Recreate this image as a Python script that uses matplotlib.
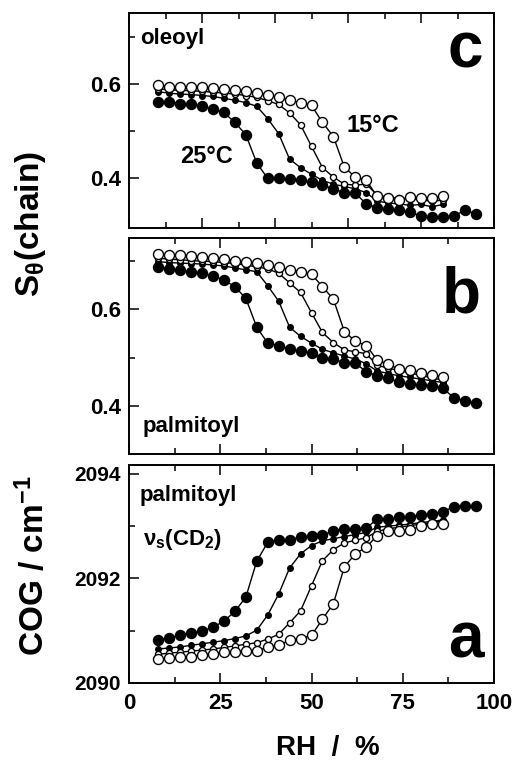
import matplotlib
matplotlib.use("Agg")
import matplotlib.pyplot as plt
from matplotlib.ticker import MultipleLocator, FixedLocator

plt.rcParams['font.family'] = ['Liberation Sans', 'DejaVu Sans']
plt.rcParams['font.weight'] = 'bold'
plt.rcParams['mathtext.fontset'] = 'custom'
plt.rcParams['mathtext.rm'] = 'Liberation Sans'
plt.rcParams['mathtext.bf'] = 'Liberation Sans:bold'
plt.rcParams['mathtext.it'] = 'Liberation Sans'

# relative humidity grids (%)
rh_long = [8, 11, 14, 17, 20, 23, 26, 29, 32, 35, 38, 41, 44, 47, 50, 53, 56, 59,
           62, 65, 68, 71, 74, 77, 80, 83, 86, 89, 92, 95]
rh_short = [8, 11, 14, 17, 20, 23, 26, 29, 32, 35, 38, 41, 44, 47, 50, 53, 56, 59,
            62, 65, 68, 71, 74, 77, 80, 83, 86]

# panel c: oleoyl order parameter
c_25 = [0.562, 0.563, 0.559, 0.557, 0.553, 0.547, 0.540, 0.519, 0.493, 0.433, 0.400,
        0.400, 0.398, 0.396, 0.392, 0.386, 0.378, 0.370, 0.369, 0.346, 0.338, 0.335,
        0.333, 0.329, 0.320, 0.318, 0.319, 0.320, 0.333, 0.325]
c_t2 = [0.584, 0.581, 0.579, 0.578, 0.576, 0.574, 0.570, 0.566, 0.561, 0.553, 0.527,
        0.495, 0.441, 0.423, 0.409, 0.396, 0.388, 0.383, 0.378, 0.370, 0.352, 0.348,
        0.346, 0.343, 0.345, 0.340, 0.345]
c_t3 = [0.590, 0.588, 0.587, 0.586, 0.585, 0.583, 0.581, 0.579, 0.576, 0.572, 0.565,
        0.557, 0.539, 0.514, 0.468, 0.423, 0.403, 0.388, 0.386, 0.388, 0.365, 0.360,
        0.358, 0.357, 0.355, 0.352, 0.354]
c_15 = [0.598, 0.595, 0.594, 0.593, 0.593, 0.591, 0.589, 0.587, 0.585, 0.581, 0.578,
        0.572, 0.566, 0.561, 0.555, 0.519, 0.489, 0.424, 0.403, 0.396, 0.362, 0.359,
        0.355, 0.360, 0.359, 0.359, 0.362]

# panel b: palmitoyl order parameter
b_25 = [0.687, 0.683, 0.681, 0.678, 0.675, 0.670, 0.661, 0.647, 0.623, 0.563, 0.530,
        0.525, 0.517, 0.513, 0.510, 0.500, 0.497, 0.489, 0.488, 0.471, 0.462, 0.457,
        0.449, 0.445, 0.443, 0.441, 0.436, 0.417, 0.410, 0.405]
b_t2 = [0.699, 0.697, 0.696, 0.695, 0.694, 0.692, 0.690, 0.686, 0.682, 0.678, 0.649,
        0.617, 0.563, 0.544, 0.530, 0.517, 0.510, 0.503, 0.497, 0.487, 0.472, 0.467,
        0.462, 0.459, 0.455, 0.452, 0.448]
b_t3 = [0.706, 0.704, 0.703, 0.701, 0.700, 0.699, 0.697, 0.695, 0.692, 0.688, 0.684,
        0.675, 0.655, 0.635, 0.593, 0.552, 0.531, 0.516, 0.512, 0.508, 0.484, 0.478,
        0.473, 0.468, 0.463, 0.458, 0.453]
b_15 = [0.715, 0.713, 0.713, 0.711, 0.708, 0.706, 0.705, 0.701, 0.699, 0.696, 0.691,
        0.687, 0.682, 0.678, 0.673, 0.647, 0.621, 0.554, 0.534, 0.525, 0.495, 0.486,
        0.476, 0.474, 0.469, 0.464, 0.459]

# panel a: palmitoyl CD2 stretching centre of gravity (cm-1)
a_25 = [2090.82, 2090.87, 2090.91, 2090.96, 2090.99, 2091.07, 2091.18, 2091.37, 2091.64,
        2092.33, 2092.69, 2092.74, 2092.74, 2092.79, 2092.81, 2092.83, 2092.91, 2092.95,
        2092.95, 2092.96, 2093.14, 2093.14, 2093.17, 2093.18, 2093.22, 2093.24, 2093.28,
        2093.37, 2093.39, 2093.39]
a_t2 = [2090.65, 2090.67, 2090.69, 2090.72, 2090.75, 2090.78, 2090.81, 2090.85, 2090.90,
        2091.01, 2091.30, 2091.70, 2092.20, 2092.47, 2092.63, 2092.72, 2092.76, 2092.80,
        2092.84, 2092.88, 2092.98, 2093.00, 2093.02, 2093.04, 2093.07, 2093.09, 2093.12]
a_t3 = [2090.55, 2090.57, 2090.59, 2090.61, 2090.63, 2090.65, 2090.68, 2090.71, 2090.74,
        2090.77, 2090.84, 2090.93, 2091.15, 2091.38, 2091.86, 2092.34, 2092.55, 2092.68,
        2092.73, 2092.78, 2092.90, 2092.95, 2092.98, 2093.01, 2093.04, 2093.07, 2093.10]
a_15 = [2090.45, 2090.47, 2090.49, 2090.50, 2090.53, 2090.56, 2090.59, 2090.59, 2090.62,
        2090.62, 2090.68, 2090.72, 2090.82, 2090.85, 2090.91, 2091.22, 2091.52, 2092.22,
        2092.47, 2092.60, 2092.82, 2092.90, 2092.91, 2092.92, 2093.01, 2093.04, 2093.05]

W, H = 514, 763
fig = plt.figure(figsize=(W / 100, H / 100), dpi=100)


def fx(px):
    return px / W


def fy(py):
    return 1 - py / H


left, right = 129, 494
panels = {}
for key, (top, bot) in {'c': (13, 228), 'b': (238, 454), 'a': (465, 683)}.items():
    panels[key] = fig.add_axes([fx(left), fy(bot), fx(right - left), (bot - top) / H])


def draw(ax, s25, s2, s3, s15):
    lk = dict(color='black', lw=1.0, markeredgecolor='black', markeredgewidth=1.0)
    ax.plot(rh_long, s25, marker='o', ms=7.2, markerfacecolor='black', **lk)
    ax.plot(rh_short, s2, marker='o', ms=4.0, markerfacecolor='black', **lk)
    ax.plot(rh_short, s3, marker='o', ms=4.4, markerfacecolor='white', **lk)
    ax.plot(rh_short, s15, marker='o', ms=7.2, markerfacecolor='white', **lk)


draw(panels['c'], c_25, c_t2, c_t3, c_15)
draw(panels['b'], b_25, b_t2, b_t3, b_15)
draw(panels['a'], a_25, a_t2, a_t3, a_15)

for key, ax in panels.items():
    ax.set_xlim(0, 100)
    for sp in ax.spines.values():
        sp.set_linewidth(1.4)
    ax.tick_params(which='both', direction='in', top=True, right=False,
                   width=1.1, labelsize=16, pad=6)
    ax.tick_params(which='major', length=7)
    ax.tick_params(which='minor', length=4)
    if key == 'c':
        ax.xaxis.set_major_locator(MultipleLocator(20))
        ax.xaxis.set_minor_locator(MultipleLocator(10))
    else:
        ax.xaxis.set_major_locator(MultipleLocator(25))
        ax.xaxis.set_minor_locator(MultipleLocator(12.5))
    if key != 'a':
        ax.tick_params(axis='x', labelbottom=False)

panels['c'].set_ylim(0.295, 0.751)
panels['b'].set_ylim(0.300, 0.748)
for key in ('c', 'b'):
    ax = panels[key]
    ax.yaxis.set_major_locator(FixedLocator([0.4, 0.6]))
    ax.yaxis.set_minor_locator(FixedLocator([0.5, 0.7]))
    ax.yaxis.set_major_formatter(plt.FuncFormatter(lambda v, p: f"{v:.1f}"))

axa = panels['a']
axa.set_ylim(2090, 2094.17)
axa.yaxis.set_major_locator(FixedLocator([2090, 2092, 2094]))
axa.yaxis.set_minor_locator(FixedLocator([2091, 2093]))
axa.yaxis.set_major_formatter(plt.FuncFormatter(lambda v, p: f"{v:.0f}"))
axa.tick_params(axis='y', labelsize=15)
axa.tick_params(axis='x', labelsize=16, pad=7)

for ax in panels.values():
    for lab in ax.get_yticklabels() + ax.get_xticklabels():
        lab.set_fontweight('bold')

# annotations
fig.text(fx(140), fy(44), 'oleoyl', fontsize=16, fontweight='bold', va='baseline')
fig.text(fx(347), fy(132), '15°C', fontsize=17, fontweight='bold', va='baseline')
fig.text(fx(180), fy(163), '25°C', fontsize=17, fontweight='bold', va='baseline')
fig.text(fx(483), fy(68), 'c', fontsize=46, fontweight='bold', va='baseline', ha='right')
fig.text(fx(481), fy(313), 'b', fontsize=46, fontweight='bold', va='baseline', ha='right')
fig.text(fx(143), fy(432), 'palmitoyl', fontsize=16, fontweight='bold', va='baseline')
fig.text(fx(140), fy(501), 'palmitoyl', fontsize=16, fontweight='bold', va='baseline')
fig.text(fx(143), fy(545), r'$\mathrm{\nu}_{\mathbf{s}}\mathbf{(CD_{2})}$', fontsize=16,
         va='baseline')
fig.text(fx(484), fy(657), 'a', fontsize=46, fontweight='bold', va='baseline', ha='right')

fig.text(fx(328), fy(755), 'RH  /  %', fontsize=20, fontweight='bold', va='baseline',
         ha='center')
fig.text(fx(31), fy(224), r'$\mathbf{S}_{\theta}\mathbf{(chain)}$', fontsize=24,
         rotation=90, va='center', ha='center')
fig.text(fx(33), fy(566), r'COG / cm$^{\mathbf{-1}}$', fontsize=24, fontweight='bold',
         rotation=90, va='center', ha='center')

fig.savefig('out.png', dpi=100)
